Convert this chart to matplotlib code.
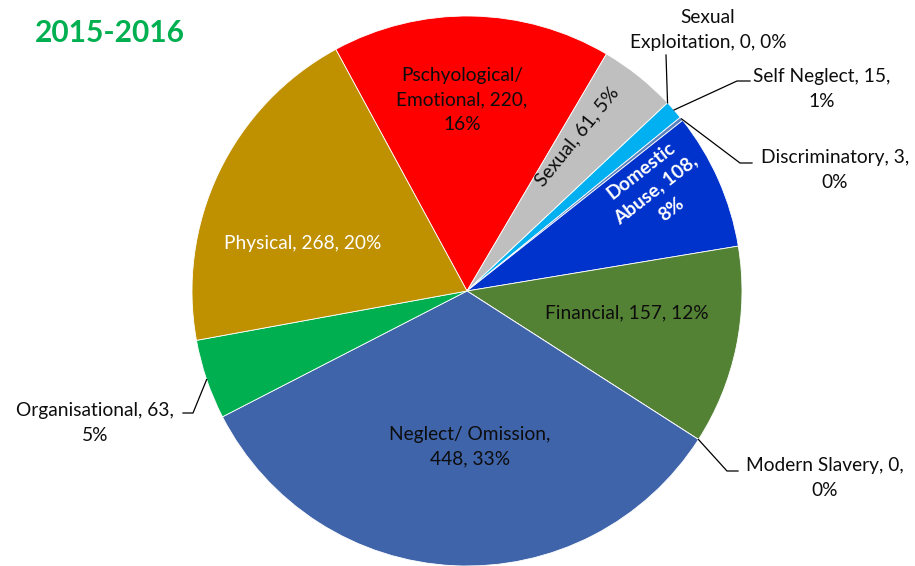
import numpy as np
import matplotlib

matplotlib.use('Agg')
import matplotlib.pyplot as plt

plt.rcParams['font.family'] = ['Lato', 'DejaVu Sans']

# Abuse categories, clockwise from the red slice
categories = ["Pschyological/ Emotional", "Sexual", "Sexual Exploitation", "Self Neglect",
              "Discriminatory", "Domestic Abuse", "Financial", "Modern Slavery",
              "Neglect/ Omission", "Organisational", "Physical"]
counts = [220, 61, 0, 15, 3, 108, 157, 0, 448, 63, 268]
colors = ["#FF0000", "#BFBFBF", "#7F7F7F", "#00B0F0", "#5B82BE", "#0033CC",
          "#548235", "#2F5597", "#3F64AA", "#00B050", "#BF9000"]
title = "2015-2016"

total = sum(counts)
pct = [int(round(100 * c / total)) for c in counts]
n, v = categories, counts
labels = [
    f"Pschyological/\nEmotional, {v[0]},\n{pct[0]}%",
    f"{n[1]}, {v[1]}, {pct[1]}%",
    f"Sexual\nExploitation, {v[2]}, {pct[2]}%",
    f"{n[3]}, {v[3]},\n{pct[3]}%",
    f"{n[4]}, {v[4]},\n{pct[4]}%",
    f"Domestic\nAbuse, {v[5]},\n{pct[5]}%",
    f"{n[6]}, {v[6]}, {pct[6]}%",
    f"{n[7]}, {v[7]},\n{pct[7]}%",
    f"Neglect/ Omission,\n{v[8]}, {pct[8]}%",
    f"{n[9]}, {v[9]},\n{pct[9]}%",
    f"{n[10]}, {v[10]}, {pct[10]}%",
]

W, H = 915, 566
fig = plt.figure(figsize=(W / 100, H / 100), dpi=100)
ax = fig.add_axes([0, 0, 1, 1])

cx, cy, R = 467, H - 291, 275
start = 90 + 28.5
wedges, _ = ax.pie(counts, colors=colors, startangle=start, counterclock=False,
                   center=(cx, cy), radius=R, frame=True,
                   wedgeprops=dict(edgecolor='white', linewidth=0.6))
ax.set_xlim(0, W)
ax.set_ylim(0, H)
ax.set_aspect('equal')
ax.axis('off')

txt = '#0d0d0d'
fs = 13.8


def px(x, y):
    return x, H - y


# inside labels: (index, x, y, rotation, colour, weight)
inside = [
    (0, 462, 100, 0, txt, 'normal'),
    (1, 577, 137, 51, txt, 'normal'),
    (5, 656, 190, 38, 'white', 'bold'),
    (6, 627, 313, 0, txt, 'normal'),
    (8, 470, 447, 0, txt, 'normal'),
    (10, 303, 243, 0, 'white', 'normal'),
]
for i, x, y, rot, col, wt in inside:
    ax.text(*px(x, y), labels[i], ha='center', va='center', rotation=rot,
            rotation_mode='anchor', color=col, fontsize=fs, fontweight=wt,
            linespacing=1.55)


def edge_point(i):
    w = wedges[i]
    if counts[i] == 0:
        ang = w.theta1
    else:
        ang = 0.5 * (w.theta1 + w.theta2)
    a = np.deg2rad(ang)
    return cx + R * np.cos(a), cy + R * np.sin(a)


# outside labels with leader lines: (index, elbow points, text x, text y)
outside = [
    (2, [(666, 55)], 708, 30),
    (3, [(737, 81), (750, 81)], 822, 89),
    (4, [(740, 163), (752, 163)], 835, 170),
    (7, [(727, 471), (738, 471)], 825, 478),
    (9, [(193, 413), (183, 413)], 95, 423),
]
for i, pts, tx, ty in outside:
    x0, y0 = edge_point(i)
    xs = [x0] + [p[0] for p in pts]
    ys = [y0] + [H - p[1] for p in pts]
    ax.plot(xs, ys, color='black', linewidth=0.9)
    ax.text(*px(tx, ty), labels[i], ha='center', va='center', color=txt,
            fontsize=fs, linespacing=1.55)

ax.text(*px(35, 33), title, ha='left', va='center', color='#00B050',
        fontsize=21.5, fontweight='bold')

fig.savefig("out.png", dpi=100)
